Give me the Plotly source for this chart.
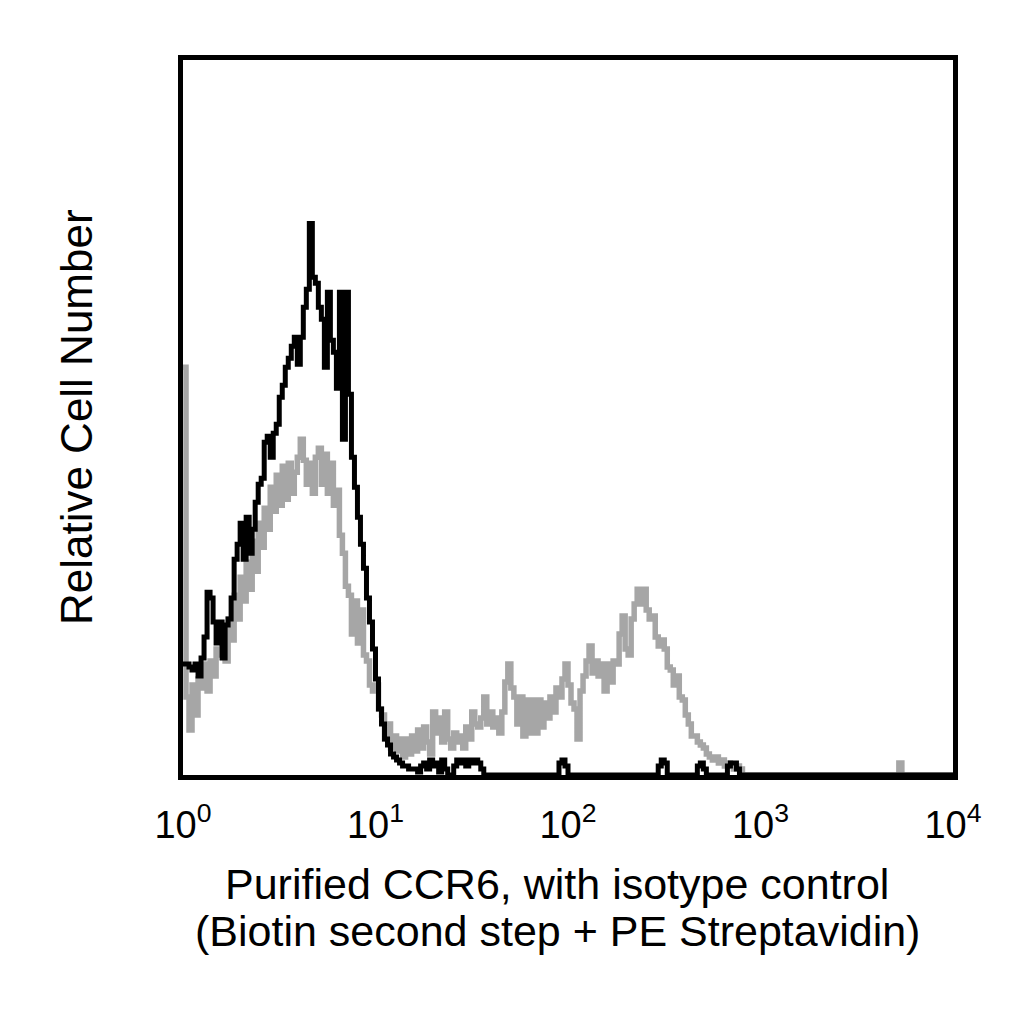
import plotly.graph_objects as go

# FACS histogram, 256 channels over 4 decades (64 channels / decade)
channels_per_decade = 64

# Black histogram (CCR6 stained) counts per channel 0..255
black_counts = [
    37, 37, 36, 35, 37, 33, 39, 46, 61, 59, 51, 44, 51, 39, 50, 52,
    59, 72, 77, 84, 72, 86, 74, 82, 91, 97, 99, 111, 113, 106, 114, 117,
    126, 130, 136, 139, 143, 146, 137, 146, 156, 162, 184, 166, 164, 156, 152, 136,
    161, 145, 141, 129, 161, 112, 161, 127, 106, 96, 86, 77, 69, 59, 51, 42,
    32, 22, 17, 12, 10, 7, 6, 5, 4, 3, 3, 2, 2, 2, 1, 3,
    4, 2, 5, 3, 4, 1, 5, 2, 0, 0, 3, 5, 4, 5, 3, 5,
    4, 5, 4, 2, 0, 0, 0, 0, 0, 0, 0, 0, 0, 0, 0, 0,
    0, 0, 0, 0, 0, 0, 0, 0, 0, 0, 0, 0, 0, 4, 5, 3,
    0, 0, 0, 0, 0, 0, 0, 0, 0, 0, 0, 0, 0, 0, 0, 0,
    0, 0, 0, 0, 0, 0, 0, 0, 0, 0, 0, 0, 0, 0, 3, 5,
    4, 0, 0, 0, 0, 0, 0, 0, 0, 0, 0, 3, 4, 2, 0, 0,
    0, 0, 0, 0, 0, 3, 4, 4, 2, 0, 0, 0, 0, 0, 0, 0,
    0, 0, 0, 0, 0, 0, 0, 0, 0, 0, 0, 0, 0, 0, 0, 0,
    0, 0, 0, 0, 0, 0, 0, 0, 0, 0, 0, 0, 0, 0, 0, 0,
    0, 0, 0, 0, 0, 0, 0, 0, 0, 0, 0, 0, 0, 0, 0, 0,
    0, 0, 0, 0, 0, 0, 0, 0, 0, 0, 0, 0, 0, 0, 0, 0,
]

# Gray histogram (isotype control) counts per channel 0..255
gray_counts = [
    136, 26, 15, 30, 20, 32, 29, 37, 28, 38, 33, 42, 40, 45, 38, 52,
    45, 60, 52, 66, 58, 71, 62, 78, 68, 84, 76, 89, 82, 96, 88, 100,
    90, 103, 92, 104, 94, 101, 106, 112, 105, 97, 104, 94, 106, 109, 97, 107,
    94, 104, 90, 95, 80, 74, 63, 60, 47, 58, 44, 55, 40, 38, 30, 28,
    30, 22, 20, 12, 17, 9, 13, 8, 12, 6, 12, 7, 13, 8, 15, 9,
    16, 11, 7, 21, 14, 19, 11, 21, 12, 9, 14, 11, 13, 9, 16, 12,
    21, 17, 16, 19, 26, 17, 21, 16, 19, 14, 21, 31, 37, 29, 26, 17,
    26, 13, 25, 14, 25, 14, 25, 16, 24, 19, 26, 21, 29, 26, 32, 37,
    30, 24, 22, 12, 28, 33, 38, 43, 34, 38, 33, 37, 28, 37, 31, 38,
    37, 47, 53, 42, 40, 52, 57, 62, 57, 62, 55, 52, 53, 46, 43, 45,
    42, 36, 35, 30, 33, 26, 25, 20, 17, 13, 13, 11, 10, 9, 7, 6,
    5, 6, 4, 5, 3, 4, 3, 2, 3, 2, 0, 0, 0, 0, 0, 0,
    0, 0, 0, 0, 0, 0, 0, 0, 0, 0, 0, 0, 0, 0, 0, 0,
    0, 0, 0, 0, 0, 0, 0, 0, 0, 0, 0, 0, 0, 0, 0, 0,
    0, 0, 0, 0, 0, 0, 0, 0, 0, 0, 0, 0, 0, 0, 4, 0,
    0, 0, 0, 0, 0, 0, 0, 0, 0, 0, 0, 0, 0, 0, 0, 0,
]

tick_values = [1, 10, 100, 1000, 10000]
tick_labels = ["10<sup>0</sup>", "10<sup>1</sup>", "10<sup>2</sup>", "10<sup>3</sup>", "10<sup>4</sup>"]

x_title_line1 = "Purified CCR6, with isotype control"
x_title_line2 = "(Biotin second step + PE Streptavidin)"
y_title = "Relative Cell Number"


def step_xy(counts):
    n = len(counts)
    xs = [10 ** (c / channels_per_decade) for c in range(n + 1)]
    ys = list(counts) + [counts[-1]]
    return xs, ys


FONT = "Liberation Sans, Arial, sans-serif"

fig = go.Figure()
gx, gy = step_xy(gray_counts)
bx, by = step_xy(black_counts)
fig.add_trace(go.Scatter(x=gx, y=gy, mode="lines",
                         line=dict(color="#a6a6a6", width=5.5, shape="hv", simplify=False),
                         showlegend=False, hoverinfo="skip"))
fig.add_trace(go.Scatter(x=bx, y=by, mode="lines",
                         line=dict(color="#000000", width=5, shape="hv", simplify=False),
                         showlegend=False, hoverinfo="skip"))

fig.update_layout(
    width=1024, height=1024,
    margin=dict(l=174.5, r=79, t=52, b=256.5),
    paper_bgcolor="white", plot_bgcolor="white",
    font=dict(family=FONT, color="black"),
    xaxis=dict(type="log", range=[0, 4], showgrid=False, zeroline=False,
               showline=True, mirror=True, linecolor="black", linewidth=5,
               ticks="", tickvals=tick_values, ticktext=tick_labels,
               ticklabelstandoff=12,
               tickfont=dict(family=FONT, size=38, color="black")),
    yaxis=dict(range=[0, 238.5], showgrid=False, zeroline=False,
               showline=True, mirror=True, linecolor="black", linewidth=5,
               ticks="", showticklabels=False),
    annotations=[
        dict(text=x_title_line1, xref="paper", yref="paper", x=0.486, y=-0.1530,
             xanchor="center", yanchor="middle", showarrow=False,
             font=dict(family=FONT, size=43, color="black")),
        dict(text=x_title_line2, xref="paper", yref="paper", x=0.486, y=-0.2175,
             xanchor="center", yanchor="middle", showarrow=False,
             font=dict(family=FONT, size=43, color="black")),
        dict(text=y_title, xref="paper", yref="paper", x=-0.1382, y=0.5,
             xanchor="center", yanchor="middle", showarrow=False, textangle=-90,
             font=dict(family=FONT, size=44, color="black")),
    ],
)

fig.write_html("out.html")
